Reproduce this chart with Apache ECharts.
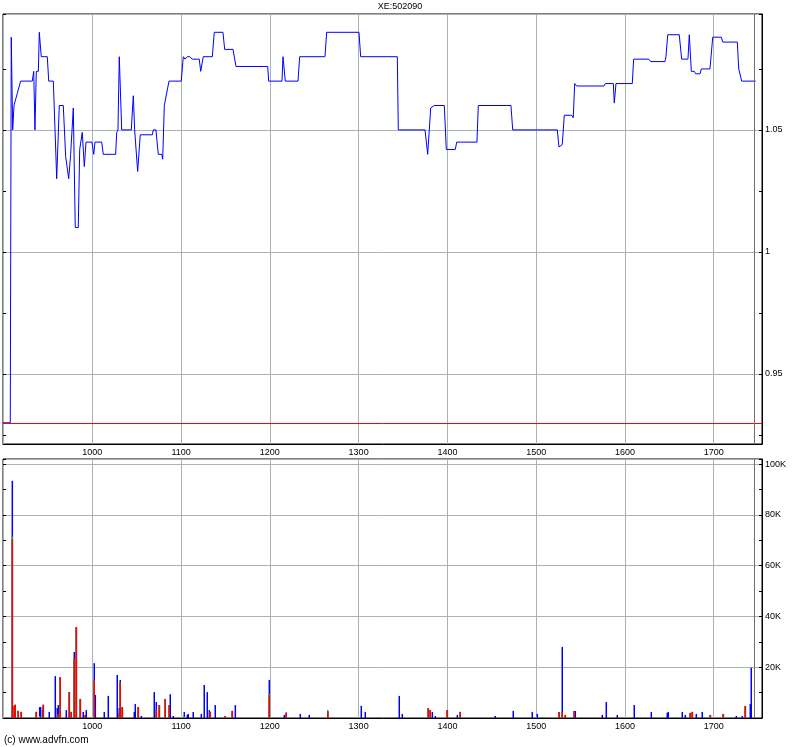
<!DOCTYPE html>
<html><head><meta charset="utf-8">
<script src="https://cdn.jsdelivr.net/npm/echarts@6/dist/echarts.min.js"></script>
<style>html,body{margin:0;padding:0;background:#fff}#c{width:800px;height:747px}</style>
</head><body><div id="c"></div>
<script>
const chartTitle = 'XE:502090';
const footerText = '(c) www.advfn.com';

// price line: x position (session index) and price
const priceX = [899.4,907.6,908.7,910.3,911.8,914.0,915.5,917.4,919.3,932.4,
934.0,935.4,936.9,939.2,940.3,942.5,949.3,950.9,956.1,959.9,
962.8,967.3,970.0,971.2,973.4,975.6,977.5,978.6,980.8,984.2,
985.8,987.2,988.7,991.0,992.9,999.6,1001.6,1003.0,1010.6,1012.4,
1026.3,1027.5,1028.9,1030.4,1033.1,1043.9,1046.2,1047.7,1051.1,1054.0,
1067.6,1068.7,1071.7,1074.3,1078.2,1079.3,1081.1,1083.3,1086.4,1100.2,
1102.5,1104.4,1107.0,1110.0,1112.6,1120.5,1122.1,1123.9,1125.0,1135.2,
1137.4,1147.2,1149.1,1158.5,1161.9,1197.6,1198.7,1213.7,1214.8,1217.4,
1231.7,1233.6,1262.1,1264.0,1300.4,1302.3,1343.6,1344.7,1374.8,1377.8,
1381.2,1385.2,1396.5,1398.8,1408.9,1410.5,1433.3,1434.8,1471.6,1473.6,
1523.8,1525.7,1529.4,1531.7,1540.0,1541.8,1543.4,1545.6,1576.4,1577.9,
1586.9,1588.0,1589.9,1608.3,1609.8,1626.8,1629.0,1645.1,1646.2,1648.2,
1661.2,1663.9,1671.0,1672.5,1674.8,1678.1,1679.7,1684.6,1686.1,1695.8,
1698.9,1708.6,1710.2,1726.6,1728.2,1729.6,1731.5,1747.3];
const priceY = [0.930,0.930,1.088,1.050,1.060,1.060,1.065,1.065,1.070,1.070,
1.074,1.050,1.074,1.074,1.090,1.080,1.080,1.070,1.070,1.030,
1.060,1.060,1.039,1.039,1.030,1.040,1.040,1.059,1.010,1.010,
1.042,1.042,1.049,1.035,1.045,1.045,1.040,1.045,1.045,1.040,
1.040,1.049,1.050,1.080,1.050,1.050,1.064,1.050,1.033,1.048,
1.048,1.050,1.050,1.040,1.040,1.038,1.060,1.060,1.070,1.070,
1.080,1.079,1.080,1.080,1.079,1.079,1.074,1.074,1.080,1.080,
1.090,1.090,1.083,1.083,1.076,1.076,1.070,1.070,1.080,1.070,
1.070,1.080,1.080,1.090,1.090,1.080,1.080,1.050,1.050,1.040,
1.059,1.060,1.060,1.042,1.042,1.045,1.045,1.060,1.060,1.050,
1.050,1.043,1.044,1.056,1.056,1.055,1.069,1.068,1.068,1.069,
1.069,1.061,1.069,1.069,1.079,1.079,1.078,1.078,1.080,1.089,
1.089,1.079,1.079,1.089,1.074,1.074,1.073,1.073,1.075,1.075,
1.088,1.088,1.086,1.086,1.075,1.075,1.070,1.070];
const refPrice = 0.93;
const lastSession = 1746;

// volume (thousands), split into three parts stacked red / green / blue
const volX = [909.9,912.1,913.2,916.6,920.0,936.9,940.7,941.8,944.1,944.8,
951.5,958.3,960.5,961.7,963.9,970.7,974.1,976.3,979.7,982.0,
986.5,989.8,992.1,993.2,1002.2,1003.4,1013.5,1018.0,1028.1,1030.4,
1031.5,1033.8,1047.3,1048.4,1051.8,1055.2,1069.8,1072.1,1075.5,1082.2,
1086.7,1087.8,1091.2,1103.6,1107.0,1108.1,1113.7,1122.8,1126.1,1129.5,
1131.8,1132.9,1138.5,1149.8,1157.7,1161.1,1199.4,1216.3,1218.5,1234.3,
1244.4,1265.2,1303.0,1307.5,1345.8,1349.2,1378.5,1380.7,1383.0,1386.4,
1399.9,1411.2,1414.5,1453.9,1474.2,1495.6,1501.3,1526.0,1529.4,1532.8,
1542.9,1544.1,1574.5,1579.0,1591.4,1610.5,1629.7,1647.7,1648.8,1664.6,
1668.0,1673.6,1675.9,1680.4,1687.1,1696.2,1710.8,1725.5,1732.2,1735.6,
1741.2,1742.3];
const volRed = [70.4,4.8,5.2,2.8,2.4,2.4,0,0,0,5.2,
0,0,0,1.5,16.1,0,10.2,2.4,23.5,35.8,
7.5,0,1.2,0,14.8,0,0,0,0,2.0,
14.0,4.3,0,0,4.3,0,0,3.1,5.1,7.5,
5.1,0,0,0,0,0,0,0,0,0,
0,2.4,0,0.8,2.8,0,9.0,0,2.1,0,
0,2.4,0,0,0,0,3.9,3.1,0,0,
3.1,0,2.4,0,0,0,0,2.4,2.4,1.2,
2.8,0,0,0,0,0,0,0,0,0,
0,2.0,2.4,0,0,1.2,1.6,0,0,4.7,
0,0];
const volGreen = [1.0,0,0,0,0,0,0.8,0,0,0,
0,0,0,0,0,0,0,0,0,0,
0,0,0,0,0,0,0,0,0,0,
0,0,0,0,0,0,0,0,0,0,
0,0,0,0.5,0,0,0,0,0,0,
0,0,0,0,0,0,0.5,0,0,0,
0,0.3,0,0,0,0,0,0,0,0,
0,0,0,0,0,0,0,0,0,0,
0,0,0,0,0,0,0,0,0,0,
0,0,0,0,0,0,0,0,0,0,
0,0];
const volBlue = [22.0,0,0,0,0,0,3.5,4.3,3.1,0,
2.4,16.5,3.9,3.6,0,3.1,0,0,2.5,0,
0,2.4,0,3.1,6.8,9.1,2.4,8.7,16.9,1.9,
1.0,0,2.4,5.5,0,0.8,10.2,3.2,0,0,
0,9.4,0.8,1.9,1.2,1.6,2.4,1.6,13.0,10.2,
3.1,0,5.1,0,0,5.1,5.5,1.2,0,1.6,
1.2,0.3,4.8,2.4,8.7,1.6,0,0,2.4,0.8,
0,1.2,0,0.8,2.8,2.4,1.6,0,25.6,0,
0,2.8,1.2,6.3,1.2,5.1,2.4,2.0,2.4,2.4,
1.2,0,0,1.6,2.4,0,0,0.8,0.8,0,
5.5,19.8];

const FONT = 'Liberation Sans';
const gridColor = '#aab3b3';
const xMin = 899.4, xMax = 1754.4;

function xLabel(v){ return (v >= 950 && v <= 1750 && Math.abs(v/100 - Math.round(v/100)) < 1e-6) ? String(Math.round(v)) : ''; }
function pLabel(v){ const k = v*20; if (Math.abs(k - Math.round(k)) > 1e-6) return ''; return String(Math.round(v*100)/100); }
function vLabel(v){ if (v <= 0 || v > 100.5 || Math.abs(v/20 - Math.round(v/20)) > 1e-6) return ''; return Math.round(v) + 'K'; }

// cumulative tops for drawing the three-part volume bars on top of each other
const topRed = volRed.slice();
const topGreen = volRed.map((r,i)=> r + volGreen[i]);
const topBlue = volRed.map((r,i)=> r + volGreen[i] + volBlue[i]);

const chart = echarts.init(document.getElementById('c'), null, {renderer:'canvas'});
const lblStyle = {color:'#000', fontSize:9, fontFamily:FONT};

const xAxisBase = (gi) => ({
  type:'value', gridIndex:gi, min:xMin, max:xMax, splitNumber:8,
  axisLine:{show:true, lineStyle:{color:'#000', width:1}},
  axisTick:{show:false},
  axisLabel:Object.assign({formatter:xLabel, margin:4}, lblStyle),
  splitLine:{show:true, lineStyle:{color:gridColor, width:1}}
});

const barBase = {type:'bar', xAxisIndex:1, yAxisIndex:1, barWidth:1.5, barGap:'-100%', silent:true};

chart.setOption({
  animation:false,
  backgroundColor:'#fff',
  title:{text:chartTitle, left:'center', top:2, padding:0, textStyle:{fontSize:9, fontWeight:'normal', color:'#000', fontFamily:FONT}},
  graphic:[{type:'text', left:4, top:735, style:{text:footerText, fontSize:10, fill:'#000', fontFamily:FONT}}],
  grid:[
    {left:3, top:14, width:759, height:430, show:true, borderColor:'#000', borderWidth:1, backgroundColor:'#fff'},
    {left:3, top:459, width:759, height:259, show:true, borderColor:'#000', borderWidth:1, backgroundColor:'#fff'}
  ],
  xAxis:[xAxisBase(0), xAxisBase(1)],
  yAxis:[
    {type:'value', gridIndex:0, position:'right', min:0.9213, max:1.0975, splitNumber:3,
     axisLine:{show:true, lineStyle:{color:'#000'}},
     axisTick:{show:true, inside:true, length:3, lineStyle:{color:'#000'}},
     minorTick:{show:true, splitNumber:2, length:3, lineStyle:{color:'#000'}},
     axisLabel:Object.assign({formatter:pLabel, margin:3}, lblStyle),
     splitLine:{show:true, lineStyle:{color:gridColor, width:1}}},
    {type:'value', gridIndex:1, position:'right', min:0, max:102, splitNumber:5,
     axisLine:{show:true, lineStyle:{color:'#000'}},
     axisTick:{show:true, inside:true, length:3, lineStyle:{color:'#000'}},
     minorTick:{show:true, splitNumber:2, length:3, lineStyle:{color:'#000'}},
     axisLabel:Object.assign({formatter:vLabel, margin:3}, lblStyle),
     splitLine:{show:true, lineStyle:{color:gridColor, width:1}}},
    {type:'value', gridIndex:0, position:'left', min:0.9213, max:1.0975, splitNumber:3,
     axisLine:{show:false}, axisLabel:{show:false}, splitLine:{show:false},
     axisTick:{show:true, inside:true, length:3, lineStyle:{color:'#000'}},
     minorTick:{show:true, splitNumber:2, length:3, lineStyle:{color:'#000'}}},
    {type:'value', gridIndex:1, position:'left', min:0, max:102, splitNumber:5,
     axisLine:{show:false}, axisLabel:{show:false}, splitLine:{show:false},
     axisTick:{show:true, inside:true, length:3, lineStyle:{color:'#000'}},
     minorTick:{show:true, splitNumber:2, length:3, lineStyle:{color:'#000'}}}
  ],
  series:[
    {type:'line', xAxisIndex:0, yAxisIndex:0, data:[], z:1, silent:true,
     markLine:{silent:true, symbol:'none', label:{show:false},
       data:[{yAxis:refPrice, lineStyle:{color:'#ff0000', width:1, type:'solid'}},
             {xAxis:lastSession, lineStyle:{color:'#707070', width:1, type:'solid'}}]}},
    {type:'line', xAxisIndex:0, yAxisIndex:0, z:3, showSymbol:false, symbol:'none',
     data:priceX.map((x,i)=>[x, priceY[i]]),
     lineStyle:{color:'#0000ff', width:1}},
    Object.assign({}, barBase, {z:2, itemStyle:{color:'#0000ff'}, data:volX.map((x,i)=>[x, topBlue[i]]),
     markLine:{silent:true, symbol:'none', label:{show:false},
       data:[{xAxis:lastSession, lineStyle:{color:'#707070', width:1, type:'solid'}}]}}),
    Object.assign({}, barBase, {z:3, itemStyle:{color:'#00c000'}, data:volX.map((x,i)=>[x, topGreen[i]])}),
    Object.assign({}, barBase, {z:4, itemStyle:{color:'#ff0000'}, data:volX.map((x,i)=>[x, topRed[i]])})
  ]
});
</script>
</body></html>
